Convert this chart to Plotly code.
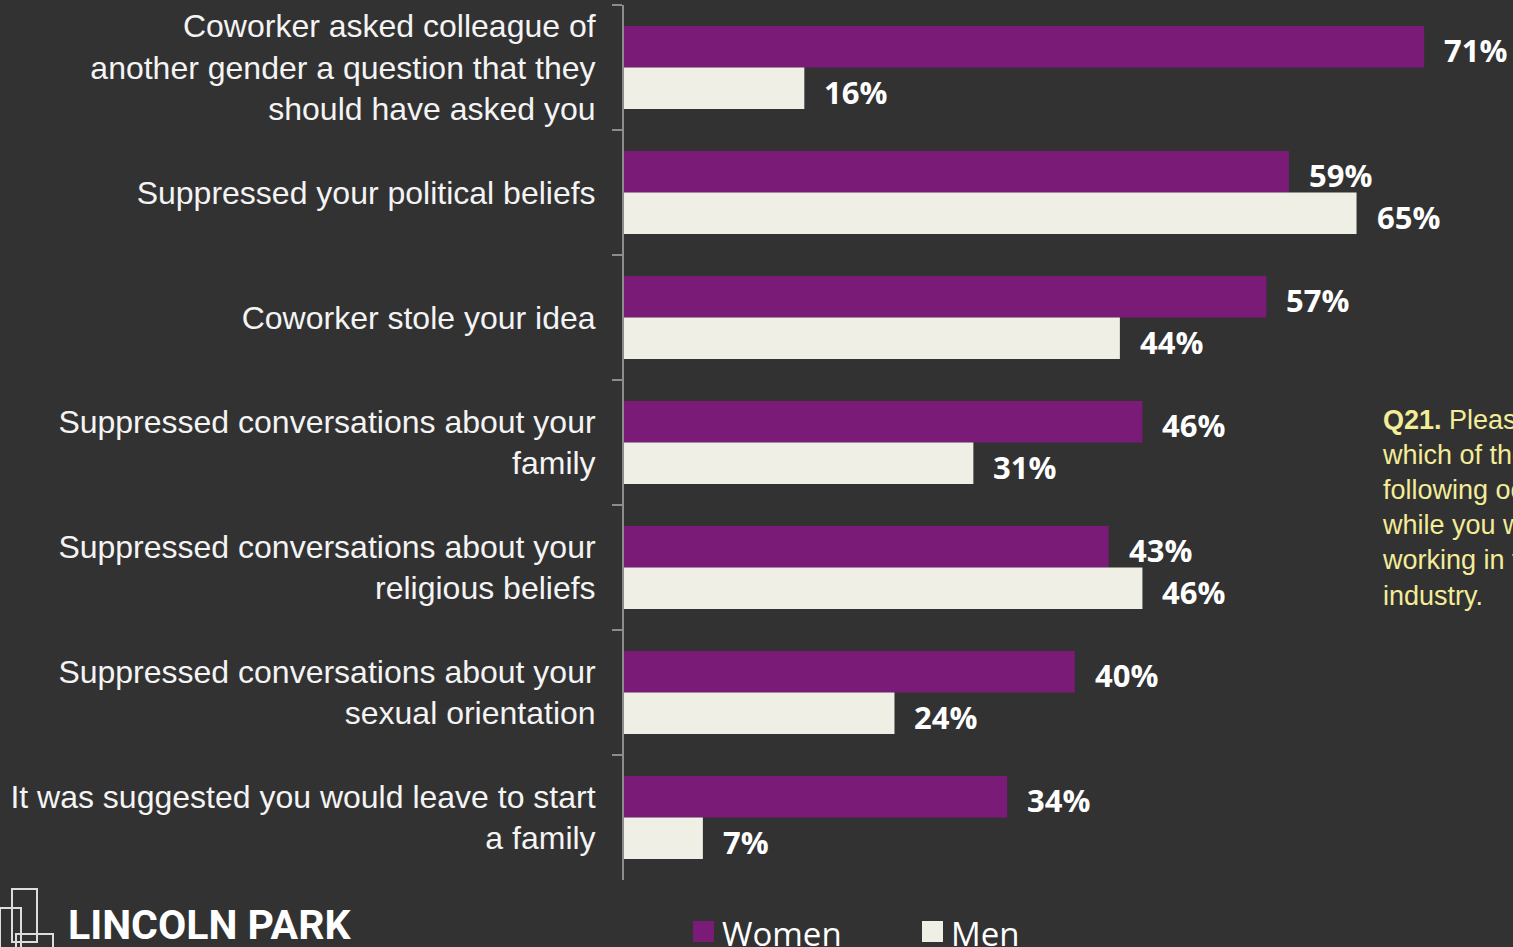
import plotly.graph_objects as go

# Survey items (top to bottom) and share of respondents who experienced each
categories = [
    "Coworker asked colleague of<br>another gender a question that they<br>should have asked you",
    "Suppressed your political beliefs",
    "Coworker stole your idea",
    "Suppressed conversations about your<br>family",
    "Suppressed conversations about your<br>religious beliefs",
    "Suppressed conversations about your<br>sexual orientation",
    "It was suggested you would leave to start<br>a family",
]
women = [71, 59, 57, 46, 43, 40, 34]
men = [16, 65, 44, 31, 46, 24, 7]
series_names = ["Women", "Men"]

BG = "#323232"
PURPLE = "#7A1B77"
CREAM = "#EFEFE6"
AXIS = "#8C8C8C"
NOTE = "#F3EC98"

W, H = 1513, 947
L, R, T, B = 624, 1513, 5, 880


def px(x):
    return (x - L) / (R - L)


def py(y):
    return (B - y) / (B - T)


fig = go.Figure()
fig.add_trace(go.Bar(name=series_names[0], y=categories, x=women, orientation="h",
                     marker=dict(color=PURPLE, line=dict(width=0))))
fig.add_trace(go.Bar(name=series_names[1], y=categories, x=men, orientation="h",
                     marker=dict(color=CREAM, line=dict(width=0))))

# value labels placed just past the end of each bar
label_font = dict(family="Open Sans", size=31, color="#FFFFFF", weight="bold")
for cat, w, m in zip(categories, women, men):
    fig.add_annotation(x=w, y=cat, xref="x", yref="y", text=f"{w}%", showarrow=False,
                       xanchor="left", yanchor="middle", xshift=18, yshift=18,
                       font=label_font)
    fig.add_annotation(x=m, y=cat, xref="x", yref="y", text=f"{m}%", showarrow=False,
                       xanchor="left", yanchor="middle", xshift=18, yshift=-24,
                       font=label_font)

# question note on the right
fig.add_annotation(
    x=px(1380), y=py(403), xref="paper", yref="paper", xanchor="left", yanchor="top",
    align="left", showarrow=False,
    text="<b>Q21.</b> Please indicate<br>which of the<br>following occurred<br>"
         "while you were<br>working in the<br>industry.",
    font=dict(family="Liberation Sans, Arial", size=27, color=NOTE),
)

# legend drawn with large swatches
legend_items = [(series_names[0], PURPLE, 693), (series_names[1], CREAM, 922)]
for name, color, x0 in legend_items:
    fig.add_shape(type="rect", xref="paper", yref="paper",
                  x0=px(x0), x1=px(x0 + 21), y0=py(942), y1=py(921),
                  fillcolor=color, line=dict(width=0))
    fig.add_annotation(x=px(x0 + 27), y=py(934), xref="paper", yref="paper",
                       xanchor="left", yanchor="middle", showarrow=False, text=name,
                       font=dict(family="Open Sans", size=33, color="#FFFFFF"))

# company mark: outlined blocks and wordmark
logo_line = dict(color="#DDDDDD", width=2)
for x0, y0, x1, y1 in [(12, 889, 37, 942), (0, 908, 21, 960), (16, 934, 53, 960)]:
    fig.add_shape(type="rect", xref="paper", yref="paper",
                  x0=px(x0), x1=px(x1), y0=py(y1), y1=py(y0), line=logo_line)
fig.add_annotation(x=px(66), y=py(925), xref="paper", yref="paper",
                   xanchor="left", yanchor="middle", showarrow=False, text="LINCOLN PARK",
                   font=dict(family="Roboto", size=41, color="#FFFFFF", weight="bold"))

fig.update_layout(
    width=W, height=H,
    margin=dict(l=L, r=W - R, t=T, b=H - B, pad=0),
    paper_bgcolor=BG, plot_bgcolor=BG,
    barmode="group", bargap=0.336, bargroupgap=0,
    showlegend=False,
    xaxis=dict(range=[0, (R - L) / 11.27], visible=False, showgrid=False, zeroline=False),
    yaxis=dict(
        type="category", range=[6.5, -0.5], showgrid=False, zeroline=False,
        showline=True, linecolor=AXIS, linewidth=2,
        ticks="outside", tickson="boundaries", ticklen=10, tickcolor=AXIS, tickwidth=2,
        ticklabelstandoff=20,
        tickfont=dict(family="Liberation Sans, Arial", size=32, color="#F4F4F4"),
    ),
)

fig.write_html("out.html")
